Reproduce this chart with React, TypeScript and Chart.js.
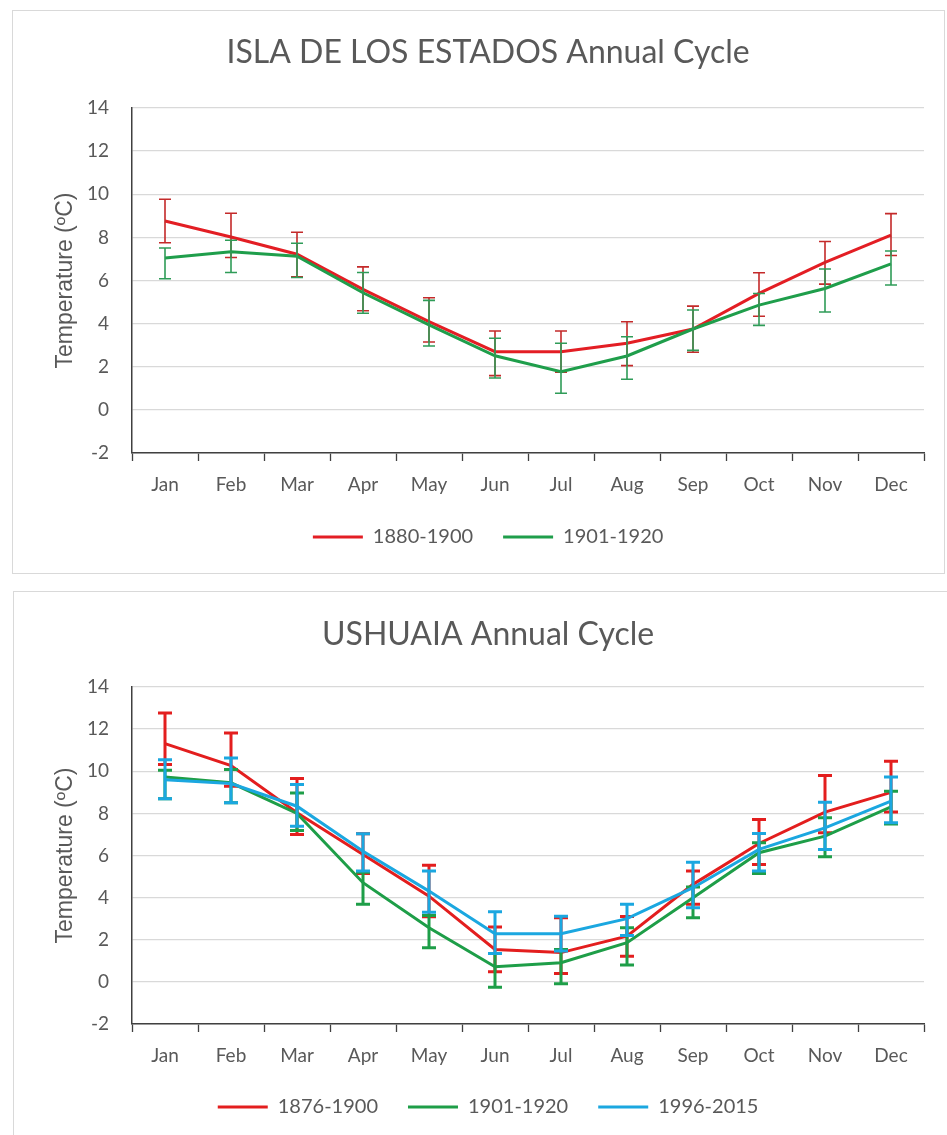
import React, { useEffect, useRef } from 'react';
import { Chart, registerables } from 'chart.js';

Chart.register(...registerables);

// ---------- shared axis data ----------
const MONTHS = ['Jan', 'Feb', 'Mar', 'Apr', 'May', 'Jun', 'Jul', 'Aug', 'Sep', 'Oct', 'Nov', 'Dec'];
const Y_MIN = -2;
const Y_MAX = 14;
const Y_STEP = 2;
const Y_TITLE = 'Temperature (ºC)';

// ---------- Isla de los Estados ----------
const ISLA_TITLE = 'ISLA DE LOS ESTADOS Annual Cycle';
const ISLA_A_LABEL = '1880-1900';
const ISLA_A = [8.76, 8.02, 7.22, 5.59, 4.09, 2.7, 2.7, 3.09, 3.75, 5.4, 6.84, 8.1];
const ISLA_A_HI = [9.77, 9.12, 8.24, 6.63, 5.2, 3.66, 3.66, 4.09, 4.81, 6.36, 7.81, 9.1];
const ISLA_A_LO = [7.75, 7.07, 6.17, 4.6, 3.15, 1.59, 1.75, 2.05, 2.67, 4.34, 5.83, 7.16];
const ISLA_B_LABEL = '1901-1920';
const ISLA_B = [7.04, 7.33, 7.13, 5.43, 3.94, 2.51, 1.77, 2.5, 3.75, 4.86, 5.63, 6.77];
const ISLA_B_HI = [7.51, 7.87, 7.73, 6.37, 5.08, 3.32, 3.09, 3.39, 4.63, 5.4, 6.53, 7.37];
const ISLA_B_LO = [6.08, 6.37, 6.14, 4.48, 2.96, 1.48, 0.77, 1.42, 2.76, 3.92, 4.54, 5.79];

// ---------- Ushuaia ----------
const USH_TITLE = 'USHUAIA Annual Cycle';
const USH_A_LABEL = '1876-1900';
const USH_A = [11.31, 10.27, 8.03, 6.05, 4.07, 1.54, 1.39, 2.17, 4.63, 6.57, 8.06, 9.0];
const USH_A_HI = [12.77, 11.82, 9.65, 7.03, 5.54, 2.6, 3.05, 3.1, 5.26, 7.71, 9.8, 10.47];
const USH_A_LO = [10.32, 9.29, 7.0, 5.15, 3.09, 0.48, 0.4, 1.22, 3.68, 5.57, 7.08, 8.06];
const USH_B_LABEL = '1901-1920';
const USH_B = [9.73, 9.45, 8.0, 4.71, 2.57, 0.72, 0.91, 1.86, 3.99, 6.13, 6.92, 8.31];
const USH_B_HI = [10.05, 10.08, 8.97, 5.2, 3.15, 1.35, 1.54, 2.57, 4.5, 6.6, 7.79, 9.05];
const USH_B_LO = [8.7, 8.5, 7.19, 3.69, 1.62, -0.25, -0.09, 0.8, 3.05, 5.15, 5.94, 7.5];
const USH_C_LABEL = '1996-2015';
const USH_C = [9.6, 9.42, 8.34, 6.2, 4.31, 2.29, 2.29, 3.0, 4.47, 6.29, 7.31, 8.58];
const USH_C_HI = [10.55, 10.63, 9.37, 7.03, 5.26, 3.33, 3.12, 3.68, 5.68, 7.04, 8.53, 9.73];
const USH_C_LO = [8.69, 8.5, 7.39, 5.26, 3.31, 1.35, 1.46, 2.2, 3.52, 5.26, 6.29, 7.55];

const FONT = 'Lato, "Open Sans", sans-serif';
const AXIS_FONT = '"Liberation Sans", Arial, sans-serif';
const TEXT = '#595959';
const AXIS_LINE = '#404040';
const GRID = '#d9d9d9';

type Series = {
  label: string;
  values: number[];
  hi: number[];
  lo: number[];
  color: string;
  errColor: string;
};

type Spec = {
  title: string;
  series: Series[];
  width: number;
  height: number;
  errWidth: number;
  errCap: number;
  target: { left: number; right: number; top: number; bottom: number; titleY: number; legendY: number; yTitleX: number };
};

const errorBarPlugin = {
  id: 'errorBars',
  afterDatasetDraw(chart: any, args: any, opts: any) {
    const ds: any = chart.data.datasets[args.index];
    if (!ds.errHi || !ds.errLo) return;
    const yScale = chart.scales.y;
    const ctx = chart.ctx;
    const cap = opts.cap || 6;
    ctx.save();
    ctx.strokeStyle = ds.errColor;
    ctx.lineWidth = opts.width || 1.5;
    ctx.lineCap = 'butt';
    args.meta.data.forEach((pt: any, i: number) => {
      const x = pt.x;
      const yh = yScale.getPixelForValue(ds.errHi[i]);
      const yl = yScale.getPixelForValue(ds.errLo[i]);
      ctx.beginPath();
      ctx.moveTo(x, yh);
      ctx.lineTo(x, yl);
      ctx.moveTo(x - cap, yh);
      ctx.lineTo(x + cap, yh);
      ctx.moveTo(x - cap, yl);
      ctx.lineTo(x + cap, yl);
      ctx.stroke();
    });
    ctx.restore();
  },
};

function AnnualCycleChart({ spec }: { spec: Spec }) {
  const ref = useRef<HTMLCanvasElement>(null);
  useEffect(() => {
    const canvas = ref.current;
    if (!canvas) return;
    const t = spec.target;
    const TITLE_SIZE = 32;
    const titleLH = TITLE_SIZE * 1.2;
    const Y_TITLE_SIZE = 23;
    const yTitleLH = Y_TITLE_SIZE * 1.2;
    const padLeft = t.yTitleX - yTitleLH / 2;
    const state = { xHeight: 60, padBottom: 10 };
    const n = spec.series.length;

    const chart = new Chart(canvas, {
      type: 'line',
      data: {
        labels: MONTHS,
        datasets: spec.series.map((s, i) => ({
          label: s.label,
          data: s.values,
          borderColor: s.color,
          backgroundColor: s.color,
          borderWidth: 3,
          pointRadius: 0,
          pointHoverRadius: 0,
          tension: 0,
          fill: false,
          order: n - i,
          errHi: s.hi,
          errLo: s.lo,
          errColor: s.errColor,
        })) as any,
      },
      options: {
        responsive: false,
        animation: false,
        devicePixelRatio: 1,
        events: [],
        layout: {
          padding: { left: padLeft, right: spec.width - t.right, top: 0, bottom: state.padBottom },
        },
        plugins: {
          title: {
            display: true,
            text: spec.title,
            color: TEXT,
            font: { family: FONT, size: TITLE_SIZE, weight: 'normal', lineHeight: 1.2 },
            padding: { top: t.titleY - titleLH / 2, bottom: t.top - t.titleY - titleLH / 2 },
          },
          legend: {
            position: 'bottom',
            labels: {
              boxWidth: 50,
              boxHeight: 3,
              padding: 30,
              color: TEXT,
              font: { family: FONT, size: 20 },
              sort: (a: any, b: any) => a.datasetIndex - b.datasetIndex,
              generateLabels: (c: any) =>
                (Chart.defaults.plugins.legend.labels.generateLabels as any)(c).map((l: any) => ({ ...l, lineWidth: 0 })),
            },
          },
          tooltip: { enabled: false },
          errorBars: { width: spec.errWidth, cap: spec.errCap },
        } as any,
        scales: {
          x: {
            type: 'category',
            offset: true,
            afterFit: (s: any) => {
              s.height = state.xHeight;
            },
            grid: {
              offset: true,
              drawOnChartArea: false,
              drawTicks: true,
              tickLength: 8,
              tickColor: AXIS_LINE,
              tickWidth: 1.3,
            },
            border: { color: AXIS_LINE, width: 1.5 },
            ticks: {
              color: TEXT,
              font: { family: FONT, size: 19 },
              padding: 12,
              maxRotation: 0,
              autoSkip: false,
            },
          },
          y: {
            min: Y_MIN,
            max: Y_MAX,
            afterFit: (s: any) => {
              s.width = t.left - padLeft;
            },
            ticks: {
              stepSize: Y_STEP,
              color: TEXT,
              font: { family: FONT, size: 19 },
              padding: 23,
            },
            grid: { color: GRID, lineWidth: 1.3, drawTicks: false },
            border: { color: AXIS_LINE, width: 1.5 },
            title: {
              display: true,
              text: Y_TITLE,
              color: TEXT,
              font: { family: AXIS_FONT, size: Y_TITLE_SIZE, lineHeight: 1.2 },
              padding: 0,
            },
          },
        },
      } as any,
      plugins: [errorBarPlugin as any],
    });

    for (let k = 0; k < 3; k++) {
      const lg: any = chart.legend;
      const hb = lg && lg.legendHitBoxes && lg.legendHitBoxes[0];
      if (!hb) break;
      const lc = hb.top + hb.height / 2;
      const dpb = lc - t.legendY;
      state.padBottom = Math.max(0, state.padBottom + dpb);
      const dxh = chart.chartArea.bottom - dpb - t.bottom;
      state.xHeight = Math.max(10, state.xHeight + dxh);
      (chart.options.layout as any).padding = {
        left: padLeft,
        right: spec.width - t.right,
        top: 0,
        bottom: state.padBottom,
      };
      chart.update();
    }

    return () => chart.destroy();
  }, [spec]);

  return <canvas ref={ref} width={spec.width} height={spec.height} style={{ display: 'block', width: spec.width, height: spec.height }} />;
}

const ISLA_SPEC: Spec = {
  title: ISLA_TITLE,
  series: [
    { label: ISLA_A_LABEL, values: ISLA_A, hi: ISLA_A_HI, lo: ISLA_A_LO, color: '#e31e24', errColor: '#c42a2a' },
    { label: ISLA_B_LABEL, values: ISLA_B, hi: ISLA_B_HI, lo: ISLA_B_LO, color: '#1f9e4b', errColor: '#2f9c58' },
  ],
  width: 931,
  height: 562,
  errWidth: 1.6,
  errCap: 6,
  target: { left: 119, right: 911, top: 97, bottom: 442, titleY: 42, legendY: 526, yTitleX: 53 },
};

const USH_SPEC: Spec = {
  title: USH_TITLE,
  series: [
    { label: USH_A_LABEL, values: USH_A, hi: USH_A_HI, lo: USH_A_LO, color: '#e31e1e', errColor: '#e31e1e' },
    { label: USH_B_LABEL, values: USH_B, hi: USH_B_HI, lo: USH_B_LO, color: '#1e9e48', errColor: '#1e9e48' },
    { label: USH_C_LABEL, values: USH_C, hi: USH_C_HI, lo: USH_C_LO, color: '#1ba7e0', errColor: '#1ba7e0' },
  ],
  width: 933,
  height: 543,
  errWidth: 3,
  errCap: 7,
  target: { left: 118, right: 910, top: 95, bottom: 432, titleY: 43, legendY: 515, yTitleX: 52 },
};

export default function App() {
  return (
    <div>
      <div
        style={{
          position: 'absolute',
          left: 12,
          top: 10,
          width: 933,
          height: 564,
          border: '1px solid #d9d9d9',
          boxSizing: 'border-box',
          background: '#fff',
        }}
      >
        <AnnualCycleChart spec={ISLA_SPEC} />
      </div>
      <div
        style={{
          position: 'absolute',
          left: 13,
          top: 591,
          width: 934,
          height: 544,
          borderTop: '1px solid #d9d9d9',
          borderLeft: '1px solid #d9d9d9',
          boxSizing: 'border-box',
          background: '#fff',
        }}
      >
        <AnnualCycleChart spec={USH_SPEC} />
      </div>
    </div>
  );
}
